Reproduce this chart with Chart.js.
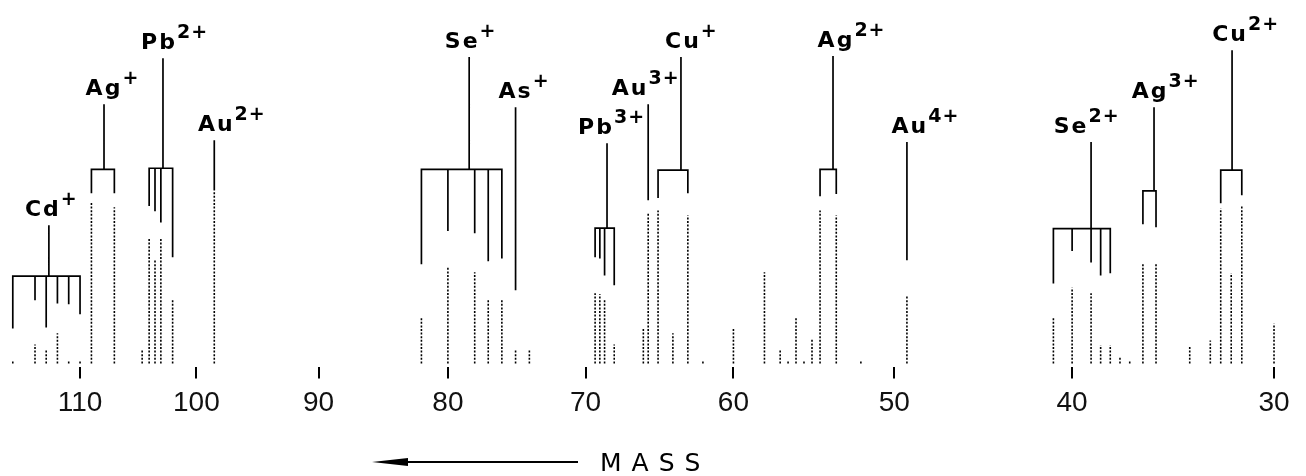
<!DOCTYPE html>
<html>
<head>
<meta charset="utf-8">
<title>Espectro de massa</title>
<script src="https://cdn.jsdelivr.net/npm/chart.js@4.4.1/dist/chart.umd.min.js"></script>
<style>
  body { margin: 0; background: #fff; }
  canvas { display: block; }
</style>
</head>
<body>
<canvas id="grafico" width="1306" height="476"></canvas>
<script>
// marcas do eixo de massa
var massTicks = [110, 100, 90, 80, 70, 60, 50, 40, 30];

// picos observados (linhas pontilhadas): massa e altura (0-100)
var peakMass = [116, 114, 113, 112, 111, 110, 109, 107, 104.6, 104, 103.5, 103, 102, 98.5,
  82, 80, 78, 77, 76, 75, 74, 69.33, 69, 68.67, 68, 66, 65.67, 65, 64, 63, 62,
  60, 58, 57, 56.5, 56, 55.5, 55, 54.5, 53.5, 52, 49.25,
  41, 40, 39, 38.5, 38, 37.5, 37, 36.33, 35.67, 34, 33, 32.5, 32, 31.5, 30];
var peakHeight = [0.8, 5.2, 3.6, 8.3, 0.6, 0.6, 44.4, 43.0, 3.6, 34.4, 28.4, 34.4, 17.4, 47.7,
  12.7, 26.4, 25.1, 17.4, 17.4, 3.6, 3.6, 19.3, 19.0, 17.4, 5.2, 9.9, 41.3, 42.1, 8.3, 40.8, 0.6,
  9.6, 25.1, 3.6, 0.6, 12.7, 0.6, 6.9, 42.1, 40.8, 0.6, 18.7,
  12.4, 20.9, 19.3, 5.0, 5.0, 1.9, 0.6, 27.8, 27.8, 4.7, 6.3, 42.7, 24.8, 43.5, 11.0];

// ions identificados
var ionName = ['Cd', 'Ag', 'Pb', 'Au', 'Se', 'As', 'Pb', 'Au', 'Cu', 'Ag', 'Au', 'Se', 'Ag', 'Cu'];
var ionCharge = ['+', '+', '2+', '2+', '+', '+', '3+', '3+', '+', '2+', '4+', '2+', '3+', '2+'];
var ionStem = [112.76, 107.9, 102.82, 98.5, 78.41, 75, 68.5, 65.67, 63.46, 53.7, 49.25, 39.0, 35.77, 31.96];
var ionLevel = [24.0, 53.4, 53.7, 61.4, 53.4, 70.5, 37.2, 71.3, 53.2, 53.4, 60.9, 37.1, 47.5, 53.2];
var ionTop = [38.0, 71.3, 84.0, 61.4, 84.3, 70.5, 60.6, 71.3, 84.3, 84.6, 60.9, 60.9, 70.5, 86.2];

// padrao isotopico calculado (linhas cheias penduradas na chave)
var isoIon = [0, 0, 0, 0, 0, 0, 1, 1, 2, 2, 2, 2, 3, 4, 4, 4, 4, 4, 5, 6, 6, 6, 6, 7,
  8, 8, 9, 9, 10, 11, 11, 11, 11, 11, 12, 12, 13, 13];
var isoMass = [116, 114, 113, 112, 111, 110, 109, 107, 104, 103.5, 103, 102, 98.5,
  82, 80, 78, 77, 76, 75, 69.33, 69, 68.67, 68, 65.67,
  65, 63, 54.5, 53.5, 49.25, 41, 40, 39, 38.5, 38, 36.33, 35.67, 32.5, 31.5];
var isoLow = [9.6, 17.4, 9.9, 16.5, 16.3, 13.5, 46.8, 46.8, 43.3, 41.9, 38.8, 29.2, 47.7,
  27.3, 36.4, 35.8, 28.1, 28.9, 20.1, 29.2, 28.9, 24.2, 21.5, 44.9,
  45.5, 46.8, 46.0, 46.6, 28.4, 22.0, 30.9, 27.8, 24.2, 24.8, 38.3, 37.5, 44.1, 46.3];

// deslocamento horizontal dos rotulos (px)
var labelShift = [-6, 0, -4, 2, -7, 0, -11, -18, 2, 3, 3, -20, -4, -2];

// o eixo do espectrometro e proporcional a raiz da massa
function pos(m) { return Math.sqrt(m); }

var pontilhado = [];
for (var i = 0; i < peakMass.length; i++) {
  pontilhado.push({ x: pos(peakMass[i]), y: 0 });
  pontilhado.push({ x: pos(peakMass[i]), y: peakHeight[i] });
  pontilhado.push({ x: pos(peakMass[i]), y: null });
}

var cheio = [];
for (var k = 0; k < ionName.length; k++) {
  var idx = [];
  for (var j = 0; j < isoIon.length; j++) if (isoIon[j] == k) idx.push(j);
  var a = idx[0], b = idx[idx.length - 1];
  // chave: primeira linha, barra horizontal, ultima linha
  cheio.push({ x: pos(isoMass[a]), y: isoLow[a] });
  cheio.push({ x: pos(isoMass[a]), y: ionLevel[k] });
  cheio.push({ x: pos(isoMass[b]), y: ionLevel[k] });
  cheio.push({ x: pos(isoMass[b]), y: isoLow[b] });
  cheio.push({ x: pos(isoMass[b]), y: null });
  // linhas internas
  for (var n = 1; n < idx.length - 1; n++) {
    cheio.push({ x: pos(isoMass[idx[n]]), y: ionLevel[k] });
    cheio.push({ x: pos(isoMass[idx[n]]), y: isoLow[idx[n]] });
    cheio.push({ x: pos(isoMass[idx[n]]), y: null });
  }
  // haste ate o rotulo
  if (ionTop[k] > ionLevel[k]) {
    cheio.push({ x: pos(ionStem[k]), y: ionLevel[k] });
    cheio.push({ x: pos(ionStem[k]), y: ionTop[k] });
    cheio.push({ x: pos(ionStem[k]), y: null });
  }
}

var rotulos = {
  id: 'rotulos',
  afterDatasetsDraw: function (chart) {
    var ctx = chart.ctx;
    var xs = chart.scales.x;
    var ys = chart.scales.y;
    ctx.save();
    ctx.fillStyle = '#000';
    ctx.textAlign = 'left';
    ctx.textBaseline = 'alphabetic';
    for (var i = 0; i < ionName.length; i++) {
      var cx = xs.getPixelForValue(pos(ionStem[i])) + labelShift[i];
      var by = ys.getPixelForValue(ionTop[i]) - 9;
      ctx.font = 'bold 22px "DejaVu Sans"';
      ctx.letterSpacing = '2px';
      var w = ctx.measureText(ionName[i]).width;
      ctx.fillText(ionName[i], cx - w / 2, by);
      ctx.font = 'bold 19px "DejaVu Sans"';
      ctx.letterSpacing = '1px';
      ctx.fillText(ionCharge[i], cx + w / 2, by - 11);
    }

    // seta e legenda MASS
    var ay = 462;
    ctx.strokeStyle = '#000';
    ctx.lineWidth = 2;
    ctx.beginPath();
    ctx.moveTo(400, ay);
    ctx.lineTo(578, ay);
    ctx.stroke();
    ctx.beginPath();
    ctx.moveTo(372, ay);
    ctx.lineTo(408, ay - 4);
    ctx.lineTo(408, ay + 4);
    ctx.closePath();
    ctx.fill();
    ctx.font = '25px "DejaVu Sans"';
    ctx.letterSpacing = '10px';
    ctx.fillText('MASS', 600, 471);
    ctx.restore();
  }
};

var ctx = document.getElementById('grafico');
var chartGraph = new Chart(ctx, {
  type: 'line',
  data: {
    datasets: [
      {
        label: 'observado',
        data: pontilhado,
        borderColor: '#000',
        borderWidth: 1.6,
        borderDash: [2, 1.6],
        pointRadius: 0,
        spanGaps: false,
        tension: 0
      },
      {
        label: 'calculado',
        data: cheio,
        borderColor: '#000',
        borderWidth: 1.7,
        pointRadius: 0,
        spanGaps: false,
        tension: 0,
        borderJoinStyle: 'miter'
      }
    ]
  },
  options: {
    responsive: false,
    animation: false,
    devicePixelRatio: 1,
    layout: { padding: { left: 0, right: 0, top: 0, bottom: 48 } },
    plugins: { legend: { display: false }, tooltip: { enabled: false } },
    scales: {
      x: {
        type: 'linear',
        reverse: true,
        min: 5.343,
        max: 10.824,
        afterBuildTicks: function (scale) {
          scale.ticks = massTicks.map(function (m) { return { value: pos(m) }; });
        },
        ticks: {
          autoSkip: false,
          maxRotation: 0,
          padding: 8,
          color: '#111',
          font: { family: '"Liberation Sans"', size: 28 },
          callback: function (v) { return Math.round(v * v); }
        },
        grid: { drawOnChartArea: false, drawTicks: true, tickLength: 11, color: '#000', lineWidth: 2 },
        border: { display: false }
      },
      y: {
        display: false,
        min: -1.1,
        max: 100
      }
    }
  },
  plugins: [rotulos]
});
</script>
</body>
</html>
